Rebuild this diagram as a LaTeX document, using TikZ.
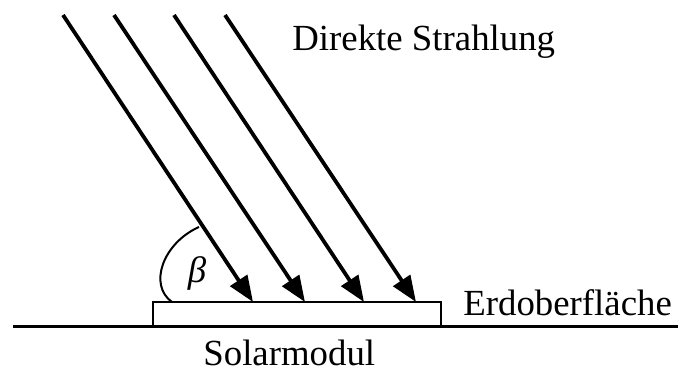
\documentclass[tikz,border=0pt]{standalone}
\usepackage{fontspec}
\setmainfont{Liberation Serif}
\usetikzlibrary{arrows.meta,positioning}

\begin{document}
\begin{tikzpicture}[x=0.5pt, y=-0.5pt,
  ray/.style={-{Triangle[length=13pt,width=10pt]}, line width=1.9pt},
  lbl/.style={font=\fontsize{18.4}{20}\selectfont, inner sep=0pt, anchor=base west},
  modul/.style={rectangle, draw, line width=1.3pt, minimum width=144pt,
                minimum height=12pt, inner sep=0pt, fill=white}
]
\useasboundingbox (0,0) rectangle (678,370);

\coordinate (gl) at (13,326);
\coordinate (gr) at (678,326);
\draw[line width=1.5pt] (gl) -- (gr);

\node[modul] (sm) at (297,314) {};

\foreach \sx/\ex [count=\i] in {63/253, 114/305, 174/364, 225/416} {
  \coordinate (s\i) at (\sx,15);
  \coordinate (e\i) at (\ex,302);
  \draw[ray] (s\i) -- (e\i);
}

\coordinate (a1) at (199,227);
\coordinate (a2) at (172,302);
\draw[line width=1pt] (a1) .. controls (163,243) and (148,285) .. (a2);
\node[font=\fontsize{18.4}{20}\selectfont\itshape, inner sep=0pt] (beta) at (197,273) {β};

\node[lbl] (dir)  at (292,50)  {Direkte Strahlung};
\node[lbl] (erd)  at (463,315) {Erdoberfläche};
\node[lbl] (sol)  at (203,365) {Solarmodul};
\end{tikzpicture}
\end{document}
